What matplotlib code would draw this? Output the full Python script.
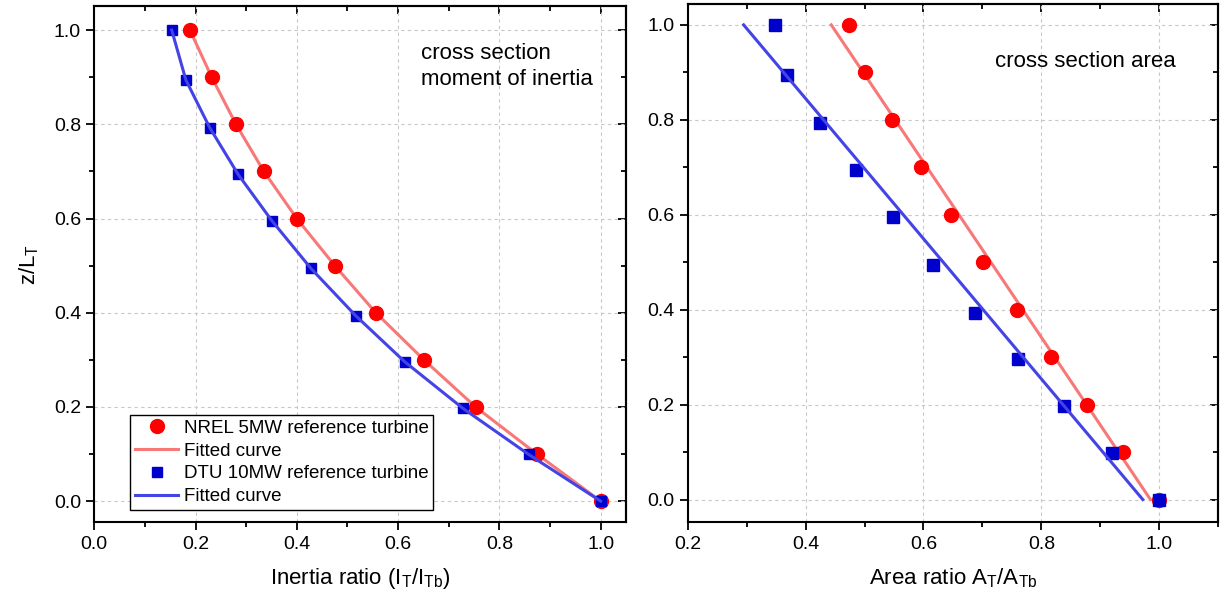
import numpy as np
import matplotlib
matplotlib.use("Agg")
import matplotlib.pyplot as plt
from matplotlib.ticker import MultipleLocator

plt.rcParams['font.family'] = ['Liberation Sans', 'DejaVu Sans']
plt.rcParams['mathtext.default'] = 'regular'

# left panel: cross section moment of inertia
z_nrel = [0.0, 0.1, 0.2, 0.3, 0.4, 0.5, 0.6, 0.7, 0.8, 0.9, 1.0]
inertia_nrel = [1.0, 0.874, 0.753, 0.651, 0.556, 0.475, 0.400, 0.335, 0.280, 0.232, 0.189]
z_dtu = [0.0, 0.099, 0.197, 0.296, 0.394, 0.494, 0.595, 0.694, 0.793, 0.894, 1.0]
inertia_dtu = [1.0, 0.858, 0.728, 0.613, 0.516, 0.428, 0.351, 0.284, 0.228, 0.181, 0.153]

# right panel: cross section area
area_nrel = [1.0, 0.939, 0.877, 0.816, 0.759, 0.701, 0.647, 0.596, 0.547, 0.500, 0.473]
area_dtu = [1.0, 0.919, 0.838, 0.760, 0.687, 0.617, 0.549, 0.485, 0.425, 0.369, 0.349]

# linear fits (end points)
fit_z = [0.0, 1.0]
fit_area_nrel = [0.985, 0.4436]
fit_area_dtu = [0.972, 0.295]

red = '#FF0000'
red_line = '#F87878'
blue = '#0000CC'
blue_line = '#4444E6'

fig = plt.figure(figsize=(12.24, 5.97), dpi=100)
ax1 = fig.add_axes([0.0770, 0.1251, 0.4344, 0.8654])
ax2 = fig.add_axes([0.5618, 0.1251, 0.4335, 0.8682])


def style(ax, xlim, ylim, xmajor):
    ax.set_xlim(*xlim)
    ax.set_ylim(*ylim)
    ax.xaxis.set_major_locator(MultipleLocator(xmajor))
    ax.xaxis.set_minor_locator(MultipleLocator(xmajor / 2))
    ax.yaxis.set_major_locator(MultipleLocator(0.2))
    ax.yaxis.set_minor_locator(MultipleLocator(0.1))
    ax.tick_params(which='both', direction='out', top=False, right=False,
                   labelsize=14, width=1.3, colors='black')
    ax.tick_params(which='major', length=6)
    ax.tick_params(which='minor', length=3.5)
    ax.grid(True, which='major', color='#C8C8C8', linestyle=(0, (3, 3)), linewidth=0.8)
    ax.set_axisbelow(True)
    for s in ax.spines.values():
        s.set_linewidth(1.5)
    # mirrored ticks on top/right pointing inwards
    top = ax.secondary_xaxis('top')
    top.xaxis.set_major_locator(MultipleLocator(xmajor))
    top.xaxis.set_minor_locator(MultipleLocator(xmajor / 2))
    top.tick_params(which='both', direction='in', labeltop=False, width=1.3)
    top.tick_params(which='major', length=6)
    top.tick_params(which='minor', length=3.5)
    right = ax.secondary_yaxis('right')
    right.yaxis.set_major_locator(MultipleLocator(0.2))
    right.yaxis.set_minor_locator(MultipleLocator(0.1))
    right.tick_params(which='both', direction='in', labelright=False, width=1.3)
    right.tick_params(which='major', length=6)
    right.tick_params(which='minor', length=3.5)
    for sec in (top, right):
        for s in sec.spines.values():
            s.set_linewidth(1.5)


# left panel
ax1.plot(inertia_nrel, z_nrel, 'o', color=red, markersize=10, label='NREL 5MW reference turbine', zorder=3)
ax1.plot(inertia_nrel, z_nrel, '-', color=red_line, linewidth=2.2, label='Fitted curve', zorder=2)
ax1.plot(inertia_dtu, z_dtu, 's', color=blue, markersize=7.5, label='DTU 10MW reference turbine', zorder=4)
ax1.plot(inertia_dtu, z_dtu, '-', color=blue_line, linewidth=2.2, label='Fitted curve', zorder=4)
style(ax1, (0, 1.05), (-0.045, 1.052), 0.2)
ax1.set_xlabel('Inertia ratio ($I_T/I_{Tb}$)', fontsize=16, labelpad=10)
ax1.set_ylabel('z/$L_T$', fontsize=16, labelpad=9)
ax1.text(0.645, 0.951, 'cross section', fontsize=16, va='center', ha='left')
ax1.text(0.645, 0.896, 'moment of inertia', fontsize=16, va='center', ha='left')
leg = ax1.legend(loc='lower left', bbox_to_anchor=(0.068, 0.024), fontsize=13.5,
                 fancybox=False, framealpha=1, edgecolor='black',
                 handlelength=2.3, handletextpad=0.3, labelspacing=0.3,
                 borderpad=0.25, borderaxespad=0)
leg.get_frame().set_linewidth(1.0)

# right panel
ax2.plot(area_nrel, z_nrel, 'o', color=red, markersize=10, zorder=3)
ax2.plot(fit_area_nrel, fit_z, '-', color=red_line, linewidth=2.2, zorder=2)
ax2.plot(area_dtu, z_dtu, 's', color=blue, markersize=9, zorder=4)
ax2.plot(fit_area_dtu, fit_z, '-', color=blue_line, linewidth=2.2, zorder=4)
style(ax2, (0.2, 1.1), (-0.048, 1.044), 0.2)
ax2.set_xlabel('Area ratio $A_T/A_{Tb}$', fontsize=16, labelpad=10)
ax2.text(0.721, 0.922, 'cross section area', fontsize=16, va='center', ha='left')

fig.savefig('out.png', dpi=100)
